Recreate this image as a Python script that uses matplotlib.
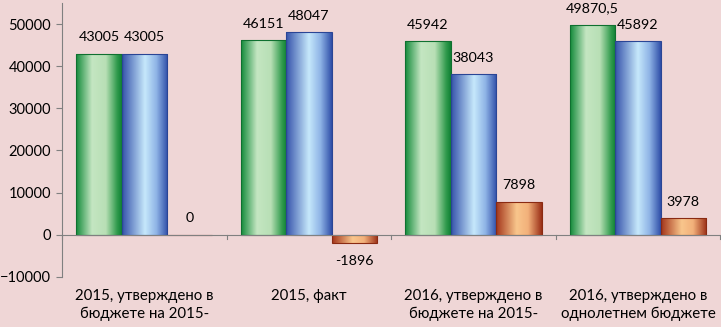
import numpy as np
import matplotlib
matplotlib.use('Agg')
from matplotlib import pyplot as plt
from matplotlib.colors import LinearSegmentedColormap

categories = ['2015, утверждено в\nбюджете на 2015-', '2015, факт',
              '2016, утверждено в\nбюджете на 2015-', '2016, утверждено в\nоднолетнем бюджете']
series_1 = [43005, 46151, 45942, 49870.5]
series_2 = [43005, 48047, 38043, 45892]
series_3 = [0, -1896, 7898, 3978]
labels_1 = ['43005', '46151', '45942', '49870,5']
labels_2 = ['43005', '48047', '38043', '45892']
labels_3 = ['0', '-1896', '7898', '3978']

bg = '#efd6d6'
plt.rcParams['font.family'] = ['Lato', 'DejaVu Sans']

fig = plt.figure(figsize=(7.21, 3.27), dpi=100, facecolor=bg)
ax = fig.add_axes([0.086, 0.153, 0.913, 0.838], facecolor=bg)

cmaps = [
    LinearSegmentedColormap.from_list('g', [(0, '#138a3a'), (0.35, '#c4e6c2'), (0.65, '#b8dfb5'), (0.9, '#2f9a4c'), (1, '#0f7f33')]),
    LinearSegmentedColormap.from_list('b', [(0, '#3552ab'), (0.5, '#c6e8fb'), (0.75, '#8fb4e6'), (1, '#2f4ea8')]),
    LinearSegmentedColormap.from_list('o', [(0, '#a3341a'), (0.45, '#f9c68c'), (0.7, '#f2b07a'), (1, '#9a2e16')]),
]
edges = ['#0f7030', '#2a4595', '#8a2a12']

x = np.arange(len(categories))
w = 0.276
grad = np.linspace(0, 1, 256).reshape(1, -1)
for i, (vals, labs) in enumerate([(series_1, labels_1), (series_2, labels_2), (series_3, labels_3)]):
    pos = x + (i - 1) * w
    bars = ax.bar(pos, vals, w, color='none', edgecolor=edges[i], linewidth=0.8, zorder=3)
    for b, v, lab in zip(bars, vals, labs):
        x0 = b.get_x()
        if v != 0:
            im = ax.imshow(grad, cmap=cmaps[i], extent=[x0, x0 + w, min(0, v), max(0, v)],
                           aspect='auto', zorder=2)
            im.set_clip_path(b)
        if v >= 0:
            ax.text(x0 + w / 2, v + 2500, lab, ha='center', va='bottom', fontsize=10.3)
        else:
            ax.text(x0 + w / 2, v - 3000, lab, ha='center', va='top', fontsize=10.3)

ax.set_xlim(-0.5, 3.5)
ax.set_ylim(-10000, 55000)
ax.set_yticks(range(-10000, 50001, 10000))
ax.tick_params(axis='y', labelsize=10.5, length=4, color='#808080', pad=4)
ax.set_xticks([])
for s in ['top', 'right', 'bottom']:
    ax.spines[s].set_visible(False)
ax.spines['left'].set_color('#808080')
ax.axhline(0, color='#808080', lw=0.8, zorder=4)
for b in np.arange(-0.5, 3.6, 1):
    ax.plot([b, b], [0, -900], color='#808080', lw=0.8, clip_on=False, zorder=4)
for xi, c in zip(x, categories):
    ax.text(xi, -12800, c, ha='center', va='top', fontsize=10.8, linespacing=1.35)

fig.savefig('out.png', dpi=100, facecolor=bg)
